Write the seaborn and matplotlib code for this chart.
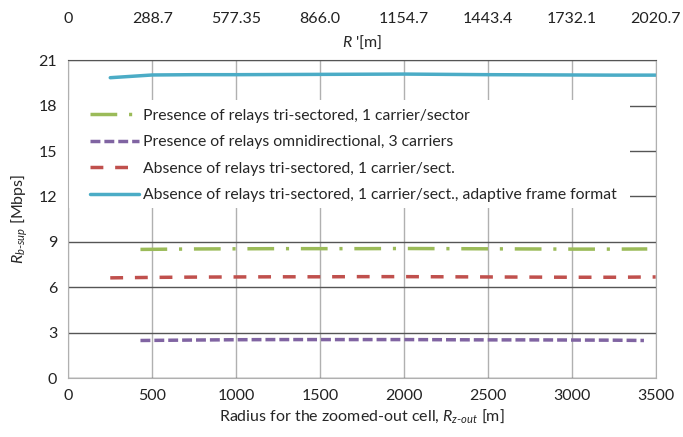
import matplotlib
matplotlib.use("Agg")
import matplotlib.pyplot as plt
from matplotlib.patches import Rectangle
import seaborn as sns
import numpy as np

# data
x_blue = [250, 500, 750, 1000, 1250, 1500, 1750, 2000, 2250, 2500, 2750, 3000, 3250, 3500]
y_blue = [19.85, 20.03, 20.05, 20.05, 20.06, 20.07, 20.08, 20.09, 20.07, 20.05, 20.04, 20.03, 20.02, 20.02]

x_green = [430, 750, 1000, 1250, 1500, 1750, 2000, 2250, 2500, 2750, 3000, 3250, 3450]
y_green = [8.5, 8.53, 8.54, 8.55, 8.55, 8.55, 8.56, 8.55, 8.54, 8.53, 8.52, 8.52, 8.53]

x_red = [250, 500, 750, 1000, 1250, 1500, 1750, 2000, 2250, 2500, 2750, 3000, 3250, 3500]
y_red = [6.62, 6.65, 6.67, 6.68, 6.69, 6.69, 6.7, 6.7, 6.69, 6.68, 6.67, 6.66, 6.66, 6.68]

x_purple = [430, 750, 1000, 1250, 1500, 1750, 2000, 2250, 2500, 2750, 3000, 3250, 3430]
y_purple = [2.48, 2.51, 2.53, 2.54, 2.54, 2.54, 2.54, 2.53, 2.52, 2.52, 2.51, 2.5, 2.48]

labels = [
    "Presence of relays tri-sectored, 1 carrier/sector",
    "Presence of relays omnidirectional, 3 carriers",
    "Absence of relays tri-sectored, 1 carrier/sect.",
    "Absence of relays tri-sectored, 1 carrier/sect., adaptive frame format",
]

x_ticks = [0, 500, 1000, 1500, 2000, 2500, 3000, 3500]
top_tick_labels = ["0", "288.7", "577.35", "866.0", "1154.7", "1443.4", "1732.1", "2020.7"]
y_ticks = [0, 3, 6, 9, 12, 15, 18, 21]

sns.set_style("white")
plt.rcParams['font.family'] = ['Lato', 'DejaVu Sans']
plt.rcParams['mathtext.fontset'] = 'custom'
plt.rcParams['mathtext.rm'] = 'Lato'
plt.rcParams['mathtext.it'] = 'Lato:italic'

fig, ax = plt.subplots(figsize=(6.83, 4.37), dpi=100)
fig.subplots_adjust(left=0.1, right=0.96, top=0.862, bottom=0.135)

lw = 2.5
sns.lineplot(x=x_green, y=y_green, ax=ax, color="#9bbb59", lw=lw,
             linestyle=(0, (7.7, 3.4, 0.9, 3.4)), label=labels[0])
sns.lineplot(x=x_purple, y=y_purple, ax=ax, color="#8064a2", lw=lw,
             linestyle=(0, (2.85, 1.15)), label=labels[1])
sns.lineplot(x=x_red, y=y_red, ax=ax, color="#c0504d", lw=lw,
             linestyle=(0, (3.7, 3.4)), label=labels[2])
sns.lineplot(x=x_blue, y=y_blue, ax=ax, color="#4bacc6", lw=lw,
             linestyle="-", label=labels[3])

ax.set_xlim(0, 3500)
ax.set_ylim(0, 21)
ax.set_xticks(x_ticks)
ax.set_yticks(y_ticks)
ax.tick_params(length=0, labelsize=11.5, colors="#222222", pad=8)

ax.xaxis.grid(True, color="#b0b0b0", lw=1)
ax.yaxis.grid(True, color="#555555", lw=1)
ax.set_axisbelow(True)
for side in ["left", "bottom", "right"]:
    ax.spines[side].set_color("#b0b0b0")
ax.spines["top"].set_color("#555555")

ax.set_xlabel(r"Radius for the zoomed-out cell, $R_{z\text{-}out}$ [m]", fontsize=11.5, labelpad=3)
ax.set_ylabel(r"$R_{b\text{-}sup}$ [Mbps]", fontsize=11.5, labelpad=6)

top = ax.twiny()
top.set_xlim(ax.get_xlim())
top.set_xticks(x_ticks)
top.set_xticklabels(top_tick_labels)
top.tick_params(length=0, labelsize=11.5, colors="#222222", pad=25)
for s in top.spines.values():
    s.set_visible(False)
ax.text(0.5, 1.055, r"$R$ '[m]", transform=ax.transAxes, ha="center", va="center",
        fontsize=11.5)

# white legend background hiding the grid, as in the original
ax.add_patch(Rectangle((0.0, 0.535), 0.957, 0.34, transform=ax.transAxes,
                       facecolor="white", edgecolor="none", zorder=1))

leg = ax.legend(loc="upper left", bbox_to_anchor=(0.037, 0.848), frameon=False,
                fontsize=11.3, handlelength=3.1, handletextpad=0.3,
                labelspacing=0.8, borderaxespad=0, borderpad=0)

fig.savefig("out.png", dpi=100)
